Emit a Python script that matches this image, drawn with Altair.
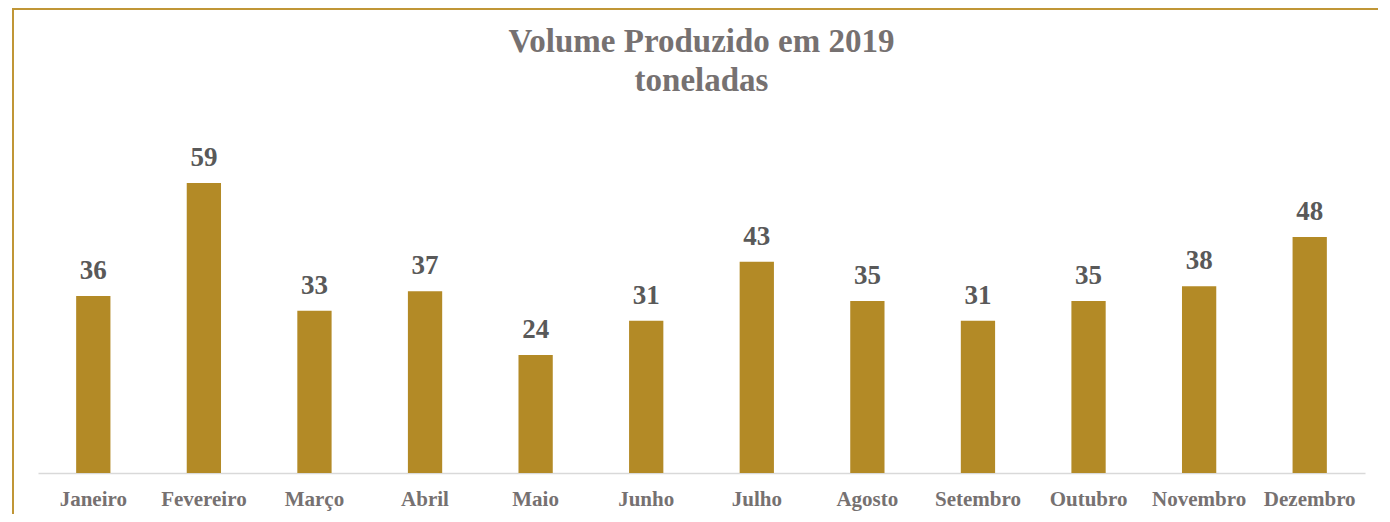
import altair as alt
import pandas as pd

months = ["Janeiro", "Fevereiro", "Março", "Abril", "Maio", "Junho",
          "Julho", "Agosto", "Setembro", "Outubro", "Novembro", "Dezembro"]
values = [36, 59, 33, 37, 24, 31, 43, 35, 31, 35, 38, 48]
title_lines = ["Volume Produzido em 2019", "toneladas"]

df = pd.DataFrame({"month": months, "value": values})
tdf = pd.DataFrame({"t": title_lines, "i": [0, 1]})

W, H = 1327, 344
GOLD = "#B38A26"
SERIF = "Liberation Serif"

base = alt.Chart(df).encode(
    x=alt.X("month:N", sort=months,
            scale=alt.Scale(paddingInner=0.69, paddingOuter=0.345),
            axis=alt.Axis(title=None, labelAngle=0, labelFont=SERIF,
                          labelFontWeight="bold", labelFontSize=21,
                          labelColor="#767171", domainColor="#D9D9D9",
                          domainWidth=1.5, ticks=False, labelPadding=15,
                          grid=False)),
    y=alt.Y("value:Q", scale=alt.Scale(domain=[0, 70]), axis=None),
)

bars = base.mark_bar(color=GOLD)
labels = base.mark_text(dy=-11, baseline="bottom", font=SERIF, fontWeight="bold",
                        fontSize=27, color="#595959").encode(text="value:Q")

title1 = alt.Chart(tdf).transform_filter("datum.i == 0").mark_text(
    font=SERIF, fontSize=33, fontWeight="bold", color="#767171",
    baseline="alphabetic", align="center").encode(
    text="t:N", x=alt.value(W / 2), y=alt.value(-77))
title2 = alt.Chart(tdf).transform_filter("datum.i == 1").mark_text(
    font=SERIF, fontSize=33, fontWeight="bold", color="#767171",
    baseline="alphabetic", align="center").encode(
    text="t:N", x=alt.value(W / 2), y=alt.value(-38))

border_top = alt.Chart(df).mark_rule(color="#C09636", strokeWidth=2).encode(
    x=alt.value(-26), x2=alt.value(1500), y=alt.value(-120))
border_left = alt.Chart(df).mark_rule(color="#C09636", strokeWidth=2).encode(
    x=alt.value(-25), y=alt.value(-121), y2=alt.value(600))

chart = alt.layer(border_top, border_left, bars, labels, title1, title2).properties(
    width=W, height=H,
    autosize=alt.AutoSizeParams(type="none"),
    padding={"left": 30, "top": 121, "right": 13, "bottom": 41},
).configure_view(stroke=None)

chart.save("out.html", embed_options={"renderer": "svg", "actions": False})
